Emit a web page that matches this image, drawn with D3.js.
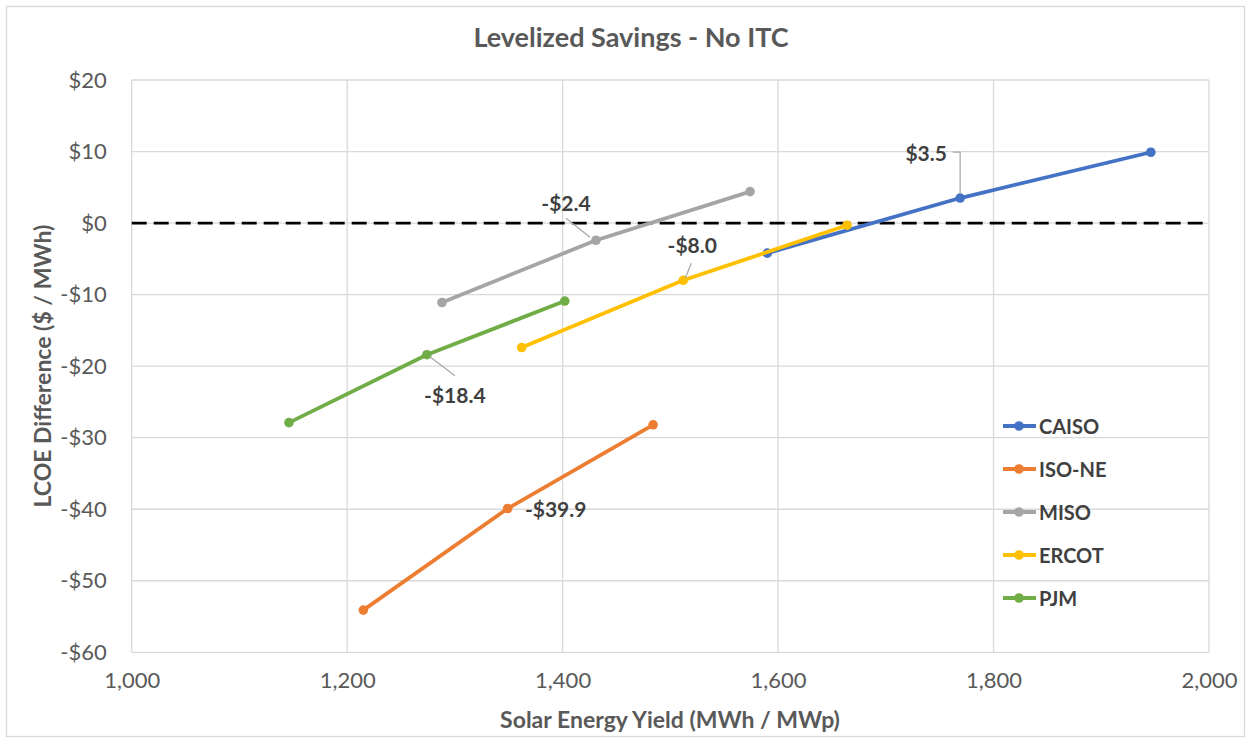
<!DOCTYPE html>
<html>
<head>
<meta charset="utf-8">
<script src="https://cdn.jsdelivr.net/npm/d3@7"></script>
<style>
  html, body { margin: 0; padding: 0; background: #fff; }
  svg { display: block; font-family: Lato, "Open Sans", sans-serif; }
</style>
</head>
<body>
<svg id="chart" width="1251" height="743"></svg>
<script>
// Levelized savings (LCOE difference) against solar energy yield, per market
const markets = ["CAISO", "ISO-NE", "MISO", "ERCOT", "PJM"];
const colors  = ["#4472C4", "#ED7D31", "#A5A5A5", "#FFC000", "#70AD47"];

const caisoYield = [1590, 1769, 1946];
const caisoDiff  = [-4.2, 3.5, 9.9];
const isoneYield = [1215, 1349, 1484];
const isoneDiff  = [-54.1, -39.9, -28.2];
const misoYield  = [1288, 1431, 1574];
const misoDiff   = [-11.1, -2.4, 4.4];
const ercotYield = [1362, 1512, 1664];
const ercotDiff  = [-17.4, -8.0, -0.3];
const pjmYield   = [1146, 1274, 1402];
const pjmDiff    = [-27.9, -18.4, -10.9];

const xTicks = [1000, 1200, 1400, 1600, 1800, 2000];
const yTicks = [-60, -50, -40, -30, -20, -10, 0, 10, 20];
const breakEvenYield = [1000, 2000];
const breakEvenDiff  = [0, 0];

const yields = [caisoYield, isoneYield, misoYield, ercotYield, pjmYield];
const diffs  = [caisoDiff, isoneDiff, misoDiff, ercotDiff, pjmDiff];

const series = markets.map((name, i) => ({
  name, color: colors[i],
  points: yields[i].map((x, j) => ({ x, y: diffs[i][j] }))
}));

const svg = d3.select("#chart");
const textDark = "#404040", textMid = "#595959", gridCol = "#d9d9d9";

const x = d3.scaleLinear().domain([1000, 2000]).range([131.7, 1209]);
const y = d3.scaleLinear().domain([-60, 20]).range([652.3, 80]);

// outer chart frame
svg.append("rect").attr("x", 6.5).attr("y", 6.5).attr("width", 1238).attr("height", 730)
  .attr("fill", "#fff").attr("stroke", gridCol).attr("stroke-width", 1.3);

// gridlines
svg.append("g").selectAll("line").data(yTicks).join("line")
  .attr("x1", x(1000)).attr("x2", x(2000))
  .attr("y1", d => y(d)).attr("y2", d => y(d))
  .attr("stroke", gridCol).attr("stroke-width", 1.3);
svg.append("g").selectAll("line").data(xTicks).join("line")
  .attr("x1", d => x(d)).attr("x2", d => x(d))
  .attr("y1", y(20)).attr("y2", y(-60))
  .attr("stroke", gridCol).attr("stroke-width", 1.3);

// axes (labels only; lines come from the grid)
const money = d => (d < 0 ? "-" : "") + "$" + Math.abs(d);
const yAxis = svg.append("g").attr("transform", `translate(${x(1000)},0)`)
  .call(d3.axisLeft(y).tickValues(yTicks).tickFormat(money).tickSize(0).tickPadding(25));
const xAxis = svg.append("g").attr("transform", `translate(0,${y(-60)})`)
  .call(d3.axisBottom(x).tickValues(xTicks).tickFormat(d3.format(",")).tickSize(0).tickPadding(20));
[yAxis, xAxis].forEach(a => {
  a.select(".domain").remove();
  a.selectAll("text").attr("fill", textMid).style("font-size", "22px")
    .style("font-family", "Lato, sans-serif");
});

// break-even reference line
svg.append("line")
  .attr("x1", x(breakEvenYield[0])).attr("x2", x(breakEvenYield[1]))
  .attr("y1", y(breakEvenDiff[0])).attr("y2", y(breakEvenDiff[1]))
  .attr("stroke", "#000").attr("stroke-width", 2.6).attr("stroke-dasharray", "15,7");

// series lines and markers
const line = d3.line().x(d => x(d.x)).y(d => y(d.y));
const sg = svg.append("g").selectAll("g").data(series).join("g");
sg.append("path").attr("d", d => line(d.points)).attr("fill", "none")
  .attr("stroke", d => d.color).attr("stroke-width", 3.8).attr("stroke-linejoin", "round");
sg.selectAll("circle").data(d => d.points.map(p => ({ ...p, color: d.color }))).join("circle")
  .attr("cx", d => x(d.x)).attr("cy", d => y(d.y)).attr("r", 4.8).attr("fill", d => d.color);

// value labels on the middle point of each market
const fmt = v => (v < 0 ? "-" : "") + "$" + Math.abs(v).toFixed(1);
const labelSpecs = [
  { s: 0, dx: -34, dy: -46, leader: "elbow" },
  { s: 2, dx: -30, dy: -38, leader: [[-30, -22], [-6, -3]] },
  { s: 3, dx: 9,  dy: -36, leader: [[8, -17], [2, -2]] },
  { s: 4, dx: 28, dy: 40, leader: [[28, 21], [3, 2]] },
  { s: 1, dx: 48, dy: 0,  leader: null }
];
const lg = svg.append("g");
labelSpecs.forEach(spec => {
  const p = series[spec.s].points[1];
  const px = x(p.x), py = y(p.y);
  const t = lg.append("text").attr("x", px + spec.dx).attr("y", py + spec.dy)
    .attr("text-anchor", "middle").attr("dominant-baseline", "central")
    .attr("fill", textDark).style("font-size", "21px").style("font-weight", 700)
    .text(fmt(p.y));
  if (spec.leader === "elbow") {
    const right = px + spec.dx + t.node().getComputedTextLength() / 2 + 6;
    lg.append("path")
      .attr("d", `M${right},${py + spec.dy}H${px}V${py - 4}`)
      .attr("fill", "none").attr("stroke", "#a6a6a6").attr("stroke-width", 1.2);
  } else if (spec.leader) {
    lg.append("line")
      .attr("x1", px + spec.leader[0][0]).attr("y1", py + spec.leader[0][1])
      .attr("x2", px + spec.leader[1][0]).attr("y2", py + spec.leader[1][1])
      .attr("stroke", "#a6a6a6").attr("stroke-width", 1.2);
  }
});

// legend
const legend = svg.append("g").attr("transform", "translate(1003,426)");
const row = legend.selectAll("g").data(series).join("g")
  .attr("transform", (d, i) => `translate(0,${i * 43})`);
row.append("line").attr("x1", 0).attr("x2", 33).attr("y1", 0).attr("y2", 0)
  .attr("stroke", d => d.color).attr("stroke-width", 3.8);
row.append("circle").attr("cx", 16).attr("cy", 0).attr("r", 4.8).attr("fill", d => d.color);
row.append("text").attr("x", 36).attr("y", 0).attr("dominant-baseline", "central")
  .attr("fill", textDark).style("font-size", "20px").style("font-weight", 700)
  .text(d => d.name);

// titles
svg.append("text").attr("x", 631).attr("y", 36).attr("text-anchor", "middle")
  .attr("dominant-baseline", "central").attr("fill", textMid)
  .style("font-size", "27px").style("font-weight", 700)
  .text("Levelized Savings - No ITC");
svg.append("text").attr("x", 670).attr("y", 719).attr("text-anchor", "middle")
  .attr("dominant-baseline", "central").attr("fill", textMid)
  .style("font-size", "23px").style("font-weight", 700)
  .text("Solar Energy Yield (MWh / MWp)");
svg.append("text").attr("transform", `translate(42,${(y(20) + y(-60)) / 2}) rotate(-90)`)
  .attr("text-anchor", "middle").attr("dominant-baseline", "central").attr("fill", textMid)
  .style("font-size", "23px").style("font-weight", 700)
  .text("LCOE Difference ($ / MWh)");
</script>
</body>
</html>
